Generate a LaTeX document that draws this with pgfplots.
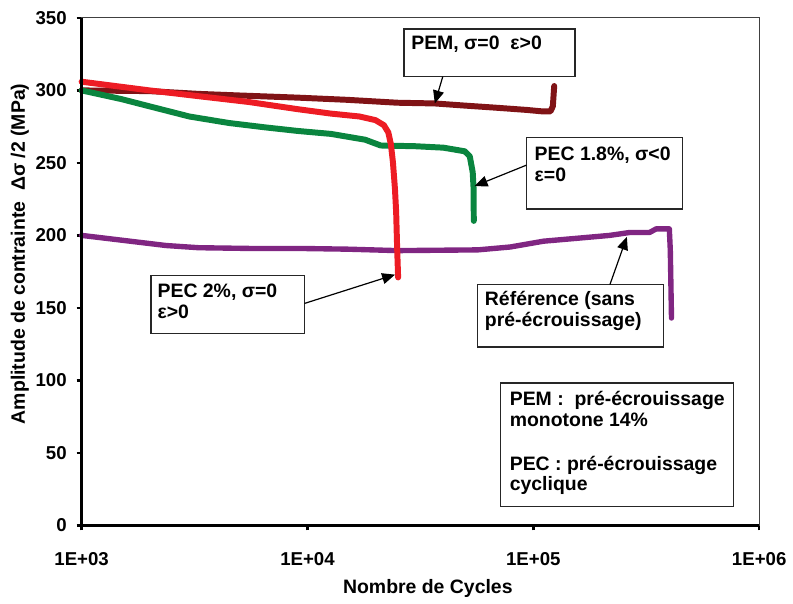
\documentclass[border=0pt]{standalone}
\usepackage{fontspec}
\setmainfont{Liberation Sans}
\usepackage{pgfplots}
\pgfplotsset{compat=1.18}
\usetikzlibrary{arrows.meta}

\definecolor{pemred}{RGB}{128,19,22}
\definecolor{pecred}{RGB}{237,28,36}
\definecolor{pecgreen}{RGB}{10,133,63}
\definecolor{refpurple}{RGB}{128,38,130}

\newcommand{\lab}{\bfseries\fontsize{9.8}{11.5}\selectfont}
\newcommand{\ticklab}{\bfseries\fontsize{9.4}{11}\selectfont}

\begin{document}
\begin{tikzpicture}[font=\lab]

\begin{axis}[
at={(0,0)}, anchor=south west,
scale only axis,
width=340.5bp, height=255bp,
xmode=log,
xmin=1e3, xmax=1e6,
ymin=0, ymax=350,
xtick={1e3,1e4,1e5,1e6},
xticklabels={1E+03,1E+04,1E+05,1E+06},
xminorticks=false,
ytick={0,50,...,350},
tick align=outside,
tick pos=left,
major tick length=2.5bp,
tick style={black, line width=1.2bp},
/pgf/number format/assume math mode=true,
tick label style={font=\ticklab},
xticklabel style={yshift=-7.5bp},
yticklabel style={xshift=-1.5bp},
axis line style={draw=black!75, line width=0.5bp},
clip=false,
every axis plot/.style={line width=3bp, line cap=round, line join=round},
]

% reference (no pre-hardening)
\addplot [refpurple, line width=2.7bp] coordinates {
(1000,200) (2370,193) (3300,191.5) (5500,191) (9100,191) (15000,190.5)
(25000,189.5) (56700,190) (79100,192) (111000,196) (156000,198)
(218000,200) (267000,202) (327000,202) (350000,204.5) (400000,204.5)
(404000,190) (409000,143)
};

% PEM, sigma=0 eps>0
\addplot [pemred] coordinates {
(1000,300) (2000,299.5) (3300,297.6) (5000,296.5) (9100,295) (15000,293.5)
(25000,291.5) (36600,291) (50000,289.5) (69300,288) (94000,286.5)
(110000,285.5) (119000,285.5) (122000,289) (123700,303)
};

% PEC 1.8%, sigma<0 eps=0
\addplot [pecgreen] coordinates {
(1000,300) (1500,294) (2000,289) (3000,282) (4500,277.5) (6500,274.5)
(9100,272) (12700,270) (18000,266) (21100,262) (30000,261.5)
(40000,260.5) (49700,258) (52300,254.6) (53900,243.6) (54400,232)
(54500,210)
};

% PEC 2%, sigma=0 eps>0
\addplot [pecred] coordinates {
(1000,306) (2000,300) (3300,296) (5500,292) (9100,287) (12700,284)
(17000,282) (20000,279.5) (21800,276) (22800,271) (23400,263)
(23900,250.5) (24400,232) (24700,216) (24950,191) (25200,171)
};

% annotation boxes
\tikzset{ann/.style={draw=black!85, line width=0.8bp},
         arr/.style={black, line width=0.6bp, -{Triangle[length=6.5bp,width=5.5bp]}},
         txt/.style={anchor=base west, inner sep=0pt}}

\draw[ann] (rel axis cs:0.4758,0.8843) rectangle (rel axis cs:0.7283,0.9784);
\node[txt] at (rel axis cs:0.4860,0.9373) {PEM, σ=0\ \ ε>0};
\draw[arr] (rel axis cs:0.5330,0.8843) -- (rel axis cs:0.5213,0.8314);

\draw[ann] (rel axis cs:0.6564,0.6235) rectangle (rel axis cs:0.8869,0.7647);
\node[txt] at (rel axis cs:0.6681,0.7196) {PEC 1.8\%, σ<0};
\node[txt] at (rel axis cs:0.6681,0.6784) {ε=0};
\draw[arr] (rel axis cs:0.6564,0.7098) -- (rel axis cs:0.5800,0.6686);

\draw[ann] (rel axis cs:0.1028,0.3784) rectangle (rel axis cs:0.3289,0.4922);
\node[txt] at (rel axis cs:0.1116,0.4490) {PEC 2\%, σ=0};
\node[txt] at (rel axis cs:0.1116,0.4078) {ε>0};
\draw[arr] (rel axis cs:0.3289,0.4373) -- (rel axis cs:0.4626,0.4941);

\draw[ann] (rel axis cs:0.5844,0.3510) rectangle (rel axis cs:0.8590,0.4745);
\node[txt] at (rel axis cs:0.5947,0.4333) {Référence (sans};
\node[txt] at (rel axis cs:0.5947,0.3922) {pré-écrouissage)};
\draw[arr] (rel axis cs:0.7797,0.4745) -- (rel axis cs:0.8047,0.5686);

\draw[ann] (rel axis cs:0.6182,0.0373) rectangle (rel axis cs:0.9618,0.2804);
\node[txt] at (rel axis cs:0.6314,0.2353) {PEM :\ \ pré-écrouissage};
\node[txt] at (rel axis cs:0.6314,0.1941) {monotone 14\%};
\node[txt] at (rel axis cs:0.6314,0.1078) {PEC : pré-écrouissage};
\node[txt] at (rel axis cs:0.6314,0.0686) {cyclique};

% heavy left and bottom axis lines
\draw[black, line width=1.5bp] (rel axis cs:0,1) -- (rel axis cs:0,0) -- (rel axis cs:1,0);

% axis titles
\node[rotate=90] at (rel axis cs:0,0.535) [yshift=31bp] {Amplitude de contrainte\ \ Δσ /2 (MPa)};
\node at (rel axis cs:0.511,0) [yshift=-31.5bp] {Nombre de Cycles};
\end{axis}

\path (-41bp,-37.5bp) rectangle (355.5bp,264bp);
\end{tikzpicture}
\end{document}
